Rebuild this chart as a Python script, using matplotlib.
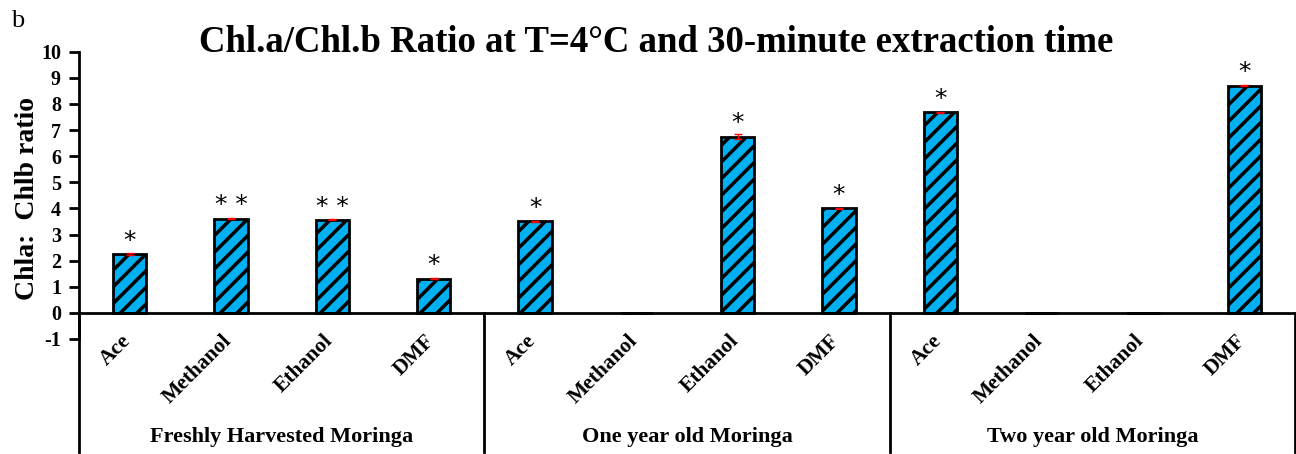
import matplotlib
matplotlib.use("Agg")
import matplotlib.pyplot as plt
from matplotlib.transforms import blended_transform_factory
import numpy as np

plt.rcParams['font.family'] = ['Liberation Serif', 'DejaVu Serif']
plt.rcParams['hatch.linewidth'] = 2.5

groups = ["Freshly Harvested Moringa", "One year old Moringa", "Two year old Moringa"]
solvents = ["Ace", "Methanol", "Ethanol", "DMF"]
values = [2.25, 3.60, 3.56, 1.31,
          3.50, 0.0, 6.75, 4.00,
          7.68, 0.0, 0.0, 8.70]
errors = [0.03, 0.02, 0.02, 0.02,
          0.02, 0.0, 0.08, 0.02,
          0.02, 0.0, 0.0, 0.02]
stars = ["*", "**", "**", "*",
         "*", "", "*", "*",
         "*", "", "", "*"]
labels = solvents * 3

W, H = 1296, 454
fig = plt.figure(figsize=(W / 100, H / 100), dpi=100)
ax_bottom_px, ax_top_px = 339.0, 51.7
ax_left_px, ax_right_px = 79.0, 1295.0
ax = fig.add_axes([ax_left_px / W, 1 - ax_bottom_px / H,
                   (ax_right_px - ax_left_px) / W, (ax_bottom_px - ax_top_px) / H])

x = np.arange(len(values))
ax.bar(x, values, width=0.33, color="#00B0F0", edgecolor="black", linewidth=2,
       hatch="//", zorder=3)
ax.errorbar(x, values, yerr=errors, fmt="none", ecolor="red", elinewidth=1,
            capsize=3, zorder=4)

for xi, v, s in zip(x, values, stars):
    if s:
        ax.annotate(" ".join(s), (xi, v), xytext=(0, 1), textcoords="offset points",
                    ha="center", va="bottom", fontsize=18, family="DejaVu Sans",
                    fontweight="normal")

ax.set_xlim(-0.5, 11.5)
ax.set_ylim(-1, 10)
ax.set_yticks(range(-1, 11))
ax.set_yticklabels([str(t) for t in range(-1, 11)], fontsize=14.5, fontweight="bold")
ax.tick_params(axis="y", direction="out", length=7, width=2, pad=6)
ax.set_xticks([])
for sp in ["top", "right", "bottom"]:
    ax.spines[sp].set_visible(False)
ax.spines["left"].set_linewidth(2)
ax.axhline(0, color="black", linewidth=2, zorder=5)

# lower group frame
trans = blended_transform_factory(ax.transData, fig.transFigure)
y_bot = 1 - 452 / H
y_zero = 1 - 313 / H
ax.plot([-0.5, -0.5], [y_zero, y_bot], color="black", lw=2, transform=trans, clip_on=False)
for sep in [3.5, 7.5, 11.5]:
    ax.plot([sep, sep], [y_zero, y_bot], color="black", lw=2, transform=trans, clip_on=False)

# category labels
for xi, lab in zip(x, labels):
    ax.text(xi + 0.05, 1 - 331 / H, lab, rotation=45, ha="right", va="top",
            fontsize=15.5, fontweight="bold", transform=trans)

for gi, g in enumerate(groups):
    ax.text(gi * 4 + 1.5, 1 - 437 / H, g, ha="center", va="center",
            fontsize=16, fontweight="bold", transform=trans)

fig.text(28 / W, 1 - 199 / H, "Chla:  Chlb ratio", rotation=90, ha="center", va="center",
         fontsize=20, fontweight="bold")
fig.text(656 / W, 1 - 42 / H, "Chl.a/Chl.b Ratio at T=4°C and 30-minute extraction time",
         ha="center", va="center", fontsize=26.5, fontweight="bold")
fig.text(11 / W, 1 - 21 / H, "b", ha="left", va="center", fontsize=19)

fig.savefig("out.png", dpi=100)
